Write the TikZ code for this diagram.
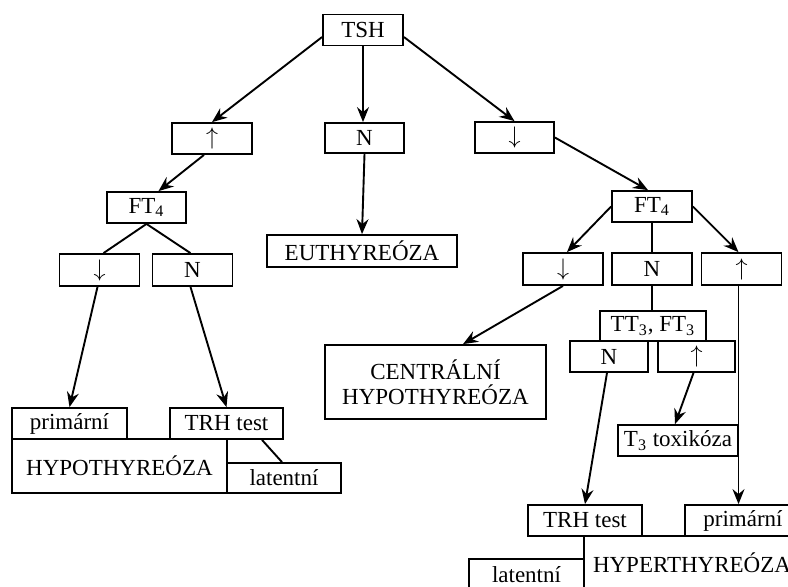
\documentclass[tikz,border=0pt]{standalone}
\usepackage{fontspec}
\setmainfont{Liberation Serif}
\usepackage{tikz}
\usetikzlibrary{arrows.meta}

\tikzset{
    box/.style={draw, line width=0.9pt, inner sep=0pt, minimum width=40pt, minimum height=15.5pt,
                font=\fontsize{11.5}{12.5}\selectfont},
    link/.style={line width=0.95pt},
    arr/.style={line width=0.95pt, -{Stealth[length=7.5pt,width=6pt,inset=2.5pt]}}
}

\begin{document}
\begin{tikzpicture}[x=0.5pt, y=-0.5pt]
                        \useasboundingbox (0,0) rectangle (788,586);
                        \clip (0,0) rectangle (788,586);
                        % first level
                        \node[box] (tsh) at (363,30) {TSH};
                        \node[box] (upL) at (212,138.5) {$\uparrow$};
                        \node[box, minimum width=39.5pt, minimum height=15pt] (nM) at (364.5,138) {N};
                        \node[box, minimum width=39.5pt] (dnR) at (514.5,137.5) {$\downarrow$};
                        % FT4 rows
                        \node[box, minimum width=39.5pt] (ft4L) at (146.5,207.5) {FT\textsubscript{4}};
                        \node[box, minimum width=95pt, minimum height=16pt] (euthy) at (362,251) {EUTHYREÓZA};
                        \node[box] (ft4R) at (652,206.5) {FT\textsubscript{4}};
                        \node[box, minimum height=16pt] (dnL2) at (99.5,270) {$\downarrow$};
                        \node[box, minimum height=16pt] (nL2) at (192.5,270) {N};
                        \node[box, minimum height=16pt] (dnR2) at (563,269) {$\downarrow$};
                        \node[box, minimum height=16pt] (nR2) at (652,269) {N};
                        \node[box, minimum height=16pt] (upR2) at (741.5,269) {$\uparrow$};
                        % hypothyreoza
                        \node[box, minimum width=57.5pt] (primL) at (69.5,423.5) {primární};
                        \node[box, minimum width=56.5pt] (trhL) at (226.5,423.5) {TRH test};
                        \node[box, minimum width=107.5pt, minimum height=27pt] (hypo) at (119.5,466) {HYPOTHYREÓZA};
                        \node[box, minimum width=57pt, minimum height=15pt] (latL) at (284,478) {latentní};
                        \node[box, minimum width=110.5pt, minimum height=37pt, align=center] (central) at (435.5,382)
                            {CENTRÁLNÍ\\HYPOTHYREÓZA};
                        % T3 branch
                        \node[box, minimum width=53pt, minimum height=15pt] (tt3) at (653,326) {TT\textsubscript{3}, FT\textsubscript{3}};
                        \node[box, minimum width=39pt] (nR3) at (609,356.5) {N};
                        \node[box, minimum width=38.5pt] (upR3) at (696.5,356.5) {$\uparrow$};
                        \node[box, minimum width=60pt] (t3tox) at (678,440.5) {T\textsubscript{3} toxikóza};
                        % hyperthyreoza
                        \node[box, minimum width=57pt] (trhR) at (585,520.5) {TRH test};
                        \node[box, minimum width=58pt] (primR) at (743,520.5) {primární};
                        \node[box, minimum width=108pt, minimum height=27pt] (hyper) at (692,563) {HYPERTHYREÓZA};
                        \node[box, minimum width=57.5pt, minimum height=16pt] (latR) at (526.5,575) {latentní};

                        \draw[arr] ([yshift=-3.5pt]tsh.west) -- (upL.north);
                        \draw[arr] (tsh.south) -- (tsh.south |- nM.north);
                        \draw[arr] ([yshift=-3.5pt]tsh.east) -- (dnR.north);
                        \draw[arr] ([xshift=-4pt]upL.south) -- ([xshift=6pt]ft4L.north);
                        \draw[link] (ft4L.south) -- ([xshift=2pt]dnL2.north);
                        \draw[link] (ft4L.south) -- ([xshift=-1pt]nL2.north);
                        \draw[arr] (nM.south) -- (euthy.north);
                        \draw[arr] (dnR.east) -- ([xshift=-2pt]ft4R.north);
                        \draw[arr] (ft4R.west) -- ([xshift=2pt]dnR2.north);
                        \draw[link] (ft4R.south) -- (nR2.north);
                        \draw[arr] (ft4R.east) -- ([xshift=-1.5pt]upR2.north);
                        \draw[arr] ([xshift=-1pt]dnL2.south) -- (primL.north);
                        \draw[arr] ([xshift=-1pt]nL2.south) -- (trhL.north);
                        \draw[link] ([xshift=17.75pt]trhL.south) -- ([xshift=-1pt]latL.north);
                        \draw[arr] (dnR2.south) -- ([xshift=13.75pt]central.north);
                        \draw[link] (nR2.south) -- (nR2.south |- tt3.north);
                        \draw[arr] ([xshift=-1.5pt]upR2.south) -- ([xshift=-1.5pt]upR2.south |- primR.north);
                        \draw[arr] ([xshift=-1.5pt]upR3.south) -- ([xshift=-1.5pt]t3tox.north);
                        \draw[arr] ([xshift=-1pt]nR3.south) -- (trhR.north);
                    \end{tikzpicture}
\end{document}
